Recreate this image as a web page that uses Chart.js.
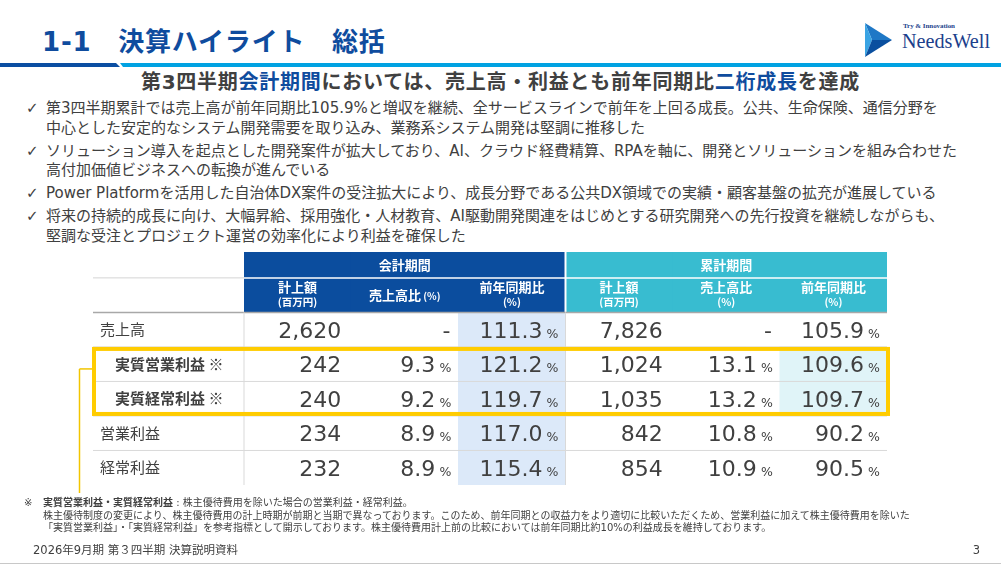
<!DOCTYPE html>
<html lang="ja">
<head>
<meta charset="utf-8">
<title>1-1 決算ハイライト 総括</title>
<script src="https://cdn.jsdelivr.net/npm/chart.js@4.4.1/dist/chart.umd.min.js"></script>
<style>
  html, body { margin: 0; padding: 0; }
  body {
    width: 1001px; height: 565px; position: relative; overflow: hidden; background: #fff;
    font-family: "DejaVu Sans", "Noto Sans CJK JP", sans-serif; color: #404040;
  }
  .title {
    position: absolute; left: 42px; top: 26px; margin: 0;
    font-size: 26px; line-height: 32px; font-weight: bold; color: #0f4c9e; white-space: pre; letter-spacing: 0.8px;
  }
  .bar-light { position: absolute; left: 0; top: 63px; width: 1001px; height: 4px; background: #00a2e2;
    clip-path: polygon(120px 0, 100% 0, 100% 100%, 123px 100%); }
  .bar-dark { position: absolute; left: 0; top: 63px; width: 124px; height: 4px; background: #0b4ea2;
    clip-path: polygon(0 0, 116px 0, 120px 100%, 0 100%); }
  .logo { position: absolute; left: 860px; top: 18px; }
  .subtitle {
    position: absolute; left: 0; width: 1001px; top: 69px; margin: 0; text-align: center;
    font-size: 20px; line-height: 26px; font-weight: bold; color: #404040; letter-spacing: 0.75px;
  }
  .subtitle em { font-style: normal; color: #0f4c9e; }
  ul.points { position: absolute; left: 24px; top: 99px; margin: 0; padding: 0; list-style: none;
    font-size: 15px; line-height: 19.5px; }
  ul.points li { position: relative; padding-left: 22px; margin-bottom: 3.5px; white-space: nowrap; }
  ul.points li::before { content: "\2713"; position: absolute; left: 2px; top: 0; font-size: 15px; }
  #tbl { position: absolute; left: 0; top: 240px; }
  .note { position: absolute; left: 24px; top: 497px; font-size: 10px; line-height: 12.5px; white-space: nowrap; }
  .note .mark { position: absolute; left: 0; top: 0; }
  .note .body { margin-left: 19px; }
  .foot { position: absolute; left: 33px; top: 542px; font-size: 11.5px; line-height: 16px; }
  .page { position: absolute; right: 21px; top: 542px; font-size: 11.5px; line-height: 16px; }
  .rule { position: absolute; left: 0; top: 563px; width: 1001px; height: 1px; background: #c8c8c8; }
</style>
</head>
<body>
<h1 class="title">1-1　決算ハイライト　総括</h1>
<div class="bar-light"></div>
<div class="bar-dark"></div>
<svg class="logo" width="135" height="44" viewBox="860 18 135 44">
  <polygon points="865,23 892,40 872,40" fill="#1f78c6"/>
  <polygon points="865,23 872,40 865,57" fill="#3aa4e4"/>
  <polygon points="865,57 872,40 892,40" fill="#0a4f9f"/>
  <text x="903" y="28" font-family="Liberation Serif" font-weight="bold" font-size="7" fill="#1c3f8c" textLength="52">Try &amp; Innovation</text>
  <text x="902" y="48" font-family="Liberation Serif" font-size="21" fill="#1c3f8c" textLength="88" lengthAdjust="spacingAndGlyphs">NeedsWell</text>
</svg>

<p class="subtitle">第3四半期<em>会計期間</em>においては、売上高・利益とも前年同期比<em>二桁成長</em>を達成</p>

<ul class="points">
  <li>第3四半期累計では売上高が前年同期比105.9%と増収を継続、全サービスラインで前年を上回る成長。公共、生命保険、通信分野を<br>中心とした安定的なシステム開発需要を取り込み、業務系システム開発は堅調に推移した</li>
  <li>ソリューション導入を起点とした開発案件が拡大しており、AI、クラウド経費精算、RPAを軸に、開発とソリューションを組み合わせた<br>高付加価値ビジネスへの転換が進んでいる</li>
  <li>Power Platformを活用した自治体DX案件の受注拡大により、成長分野である公共DX領域での実績・顧客基盤の拡充が進展している</li>
  <li>将来の持続的成長に向け、大幅昇給、採用強化・人材教育、AI駆動開発関連をはじめとする研究開発への先行投資を継続しながらも、<br>堅調な受注とプロジェクト運営の効率化により利益を確保した</li>
</ul>

<canvas id="tbl" width="1001" height="262"></canvas>

<div class="note">
  <span class="mark">※</span>
  <div class="body"><b>実質営業利益・実質経常利益</b> : 株主優待費用を除いた場合の営業利益・経常利益。<br>株主優待制度の変更により、株主優待費用の計上時期が前期と当期で異なっております。このため、前年同期との収益力をより適切に比較いただくため、営業利益に加えて株主優待費用を除いた<br>「実質営業利益」・「実質経常利益」を参考指標として開示しております。株主優待費用計上前の比較においては前年同期比約10%の利益成長を維持しております。</div>
</div>
<div class="foot">2026年9月期 第３四半期 決算説明資料</div>
<div class="page">3</div>
<div class="rule"></div>

<script>
// table rows and columns
const rowLabels = ['売上高', '実質営業利益 ※', '実質経常利益 ※', '営業利益', '経常利益'];
const rowAdjusted = [false, true, true, false, false];
const groupLabels = ['会計期間', '累計期間'];
const colHeads = [['計上額', '(百万円)'], ['売上高比', '(%)'], ['前年同期比', '(%)'],
                  ['計上額', '(百万円)'], ['売上高比', '(%)'], ['前年同期比', '(%)']];

// 会計期間 (Q3 only)
const qAmount = [2620, 242, 240, 234, 232];     // 百万円
const qRatio = [null, 9.3, 9.2, 8.9, 8.9];      // 売上高比 %
const qYoY = [111.3, 121.2, 119.7, 117.0, 115.4]; // 前年同期比 %
// 累計期間
const cAmount = [7826, 1024, 1035, 842, 854];
const cRatio = [null, 13.1, 13.2, 10.8, 10.9];
const cYoY = [105.9, 109.6, 109.7, 90.2, 90.5];

const columns = [qAmount, qRatio, qYoY, cAmount, cRatio, cYoY];
const colKind = ['amount', 'pct', 'pct', 'amount', 'pct', 'pct'];
const colKeys = columns.map((_, i) => 'c' + i);

const JP = '"Noto Sans CJK JP"';
const NUM = '"DejaVu Sans"';
const TEXT = '#404040';
const NAVY = '#0b4d9e';
const TEAL = '#38bcd0';
const YELLOW = '#ffcc00';

// rows sit on the y scale at 1..n, sub header at 0, group header above it
const rowPos = rowLabels.map((_, i) => i + 1);
const lastRow = rowPos[rowPos.length - 1];
const headSpan = [-1.25, -0.5];
const subSpan = [-0.5, 0.5];
const adjRows = rowPos.filter((_, i) => rowAdjusted[i]);
const adjTop = Math.min(...adjRows) - 0.5;
const adjBottom = Math.max(...adjRows) + 0.5;

const groupColor = colKeys.map((_, c) => c < 3 ? NAVY : TEAL);
const shadeData = colKeys.map((_, c) => c === 2 ? [0.5, lastRow + 0.5] : c === 5 ? [adjTop, adjBottom] : null);
const shadeColor = colKeys.map((_, c) => c === 2 ? '#dce9f9' : '#e0f4f8');

function fmt(v, kind) {
    if (v === null) return '-';
    return kind === 'amount' ? v.toLocaleString('en-US') : v.toFixed(1);
}

const tablePlugin = {
    id: 'tableCells',
    afterDatasetsDraw(chart) {
        const { ctx, scales: { x, y } } = chart;
        const py = v => y.getPixelForValue(v);
        const colW = x.getPixelForValue(1) - x.getPixelForValue(0);
        const left = c => x.getPixelForValue(c) - colW / 2;
        const right = c => x.getPixelForValue(c) + colW / 2;
        const tableLeft = y.left - 7;
        const splitX = left(3);

        const line = (x1, y1, x2, y2, color, w) => {
            ctx.save();
            ctx.strokeStyle = color;
            ctx.lineWidth = w;
            ctx.beginPath();
            ctx.moveTo(x1, y1);
            ctx.lineTo(x2, y2);
            ctx.stroke();
            ctx.restore();
        };

        // header separators
        line(x.left, py(-0.5), x.right, py(-0.5), '#ffffff', 1.5);
        line(splitX, chart.chartArea.top, splitX, py(0.5), '#ffffff', 2);

        // grid lines
        line(tableLeft, py(-0.5), x.left, py(-0.5), '#d4d4d4', 1);
        line(tableLeft, py(0.5), x.right, py(0.5), '#a8a8a8', 1.5);
        rowPos.slice(1).forEach(r => line(tableLeft, py(r - 0.5), x.right, py(r - 0.5), '#d9d9d9', 1));
        [x.left, splitX].forEach(px => line(px, py(0.5), px, py(lastRow + 0.5), '#d9d9d9', 1));

        ctx.save();
        ctx.fillStyle = '#ffffff';
        ctx.textAlign = 'center';
        ctx.textBaseline = 'middle';

        // group headers
        ctx.font = 'bold 13px ' + JP;
        groupLabels.forEach((g, gi) => {
            const cx = (left(gi * 3) + right(gi * 3 + 2)) / 2;
            ctx.fillText(g, cx, py(-0.875));
        });

        // column headers
        colHeads.forEach(([main, unit], c) => {
            const cx = x.getPixelForValue(c);
            const cy = py(0);
            if (c === 1) {
                // unit on the same line
                ctx.font = 'bold 13px ' + JP;
                const w1 = ctx.measureText(main).width;
                ctx.font = 'bold 10px ' + JP;
                const w2 = ctx.measureText(' ' + unit).width;
                ctx.textAlign = 'left';
                ctx.font = 'bold 13px ' + JP;
                ctx.fillText(main, cx - (w1 + w2) / 2, cy);
                ctx.font = 'bold 10px ' + JP;
                ctx.fillText(' ' + unit, cx - (w1 + w2) / 2 + w1, cy + 1);
                ctx.textAlign = 'center';
            } else {
                ctx.font = 'bold 13px ' + JP;
                ctx.fillText(main, cx, cy - 8);
                ctx.font = 'bold 10.5px ' + JP;
                ctx.fillText(unit, cx, cy + 7);
            }
        });

        // values
        ctx.fillStyle = TEXT;
        ctx.textBaseline = 'alphabetic';
        ctx.textAlign = 'right';
        columns.forEach((vals, c) => {
            const kind = colKind[c];
            const r0 = right(c);
            vals.forEach((v, i) => {
                const base = py(rowPos[i]) + 8;
                ctx.font = '22px ' + NUM;
                if (kind === 'amount') {
                    ctx.fillText(fmt(v, kind), r0 - 10, base);
                } else if (v === null) {
                    ctx.fillText('-', r0 - 8, base);
                } else {
                    ctx.fillText(fmt(v, kind), r0 - 23, base);
                    ctx.font = '12.5px ' + NUM;
                    ctx.fillText('%', r0 - 7, base);
                }
            });
        });
        ctx.restore();

        // highlight box around adjusted profit rows
        const bx = tableLeft - 1, bt = py(adjTop), bb = py(adjBottom), br = x.right + 3;
        ctx.save();
        ctx.strokeStyle = YELLOW;
        ctx.lineWidth = 4;
        ctx.strokeRect(bx + 2, bt + 2, br - bx - 4, bb - bt - 4);
        ctx.restore();
        // bracket leading to the footnote
        const kx = bx - 12.5;
        line(kx, bt + 22, bx, bt + 22, '#f2c500', 1.5);
        line(kx, bt + 22, kx, py(lastRow + 0.5) + 8, '#f2c500', 1.5);
    }
};

new Chart(document.getElementById('tbl'), {
    type: 'bar',
    data: {
        labels: colKeys,
        datasets: [
            { label: 'group', data: colKeys.map(() => headSpan), backgroundColor: groupColor },
            { label: 'sub', data: colKeys.map(() => subSpan), backgroundColor: groupColor },
            { label: 'shade', data: shadeData, backgroundColor: shadeColor }
        ]
    },
    options: {
        responsive: false,
        animation: false,
        events: [],
        datasets: {
            bar: { grouped: false, barPercentage: 1, categoryPercentage: 1, borderWidth: 0 }
        },
        layout: { padding: { left: 100, right: 114, top: 12, bottom: 17 } },
        plugins: { legend: { display: false }, tooltip: { enabled: false } },
        scales: {
            x: { type: 'category', display: false },
            y: {
                type: 'linear',
                reverse: true,
                min: headSpan[0],
                max: lastRow + 0.5,
                grid: { display: false },
                border: { display: false },
                afterFit: scale => { scale.width = 144; },
                afterBuildTicks: scale => { scale.ticks = rowPos.map(v => ({ value: v })); },
                ticks: {
                    autoSkip: false,
                    padding: 0,
                    crossAlign: 'far',
                    color: TEXT,
                    font: c => ({ family: JP, size: 15, weight: rowAdjusted[c.index] ? 'bold' : 'normal' }),
                    callback: (v, i) => (rowAdjusted[i] ? '\u3000' : '') + rowLabels[i]
                }
            }
        }
    },
    plugins: [tablePlugin]
});
</script>
</body>
</html>
